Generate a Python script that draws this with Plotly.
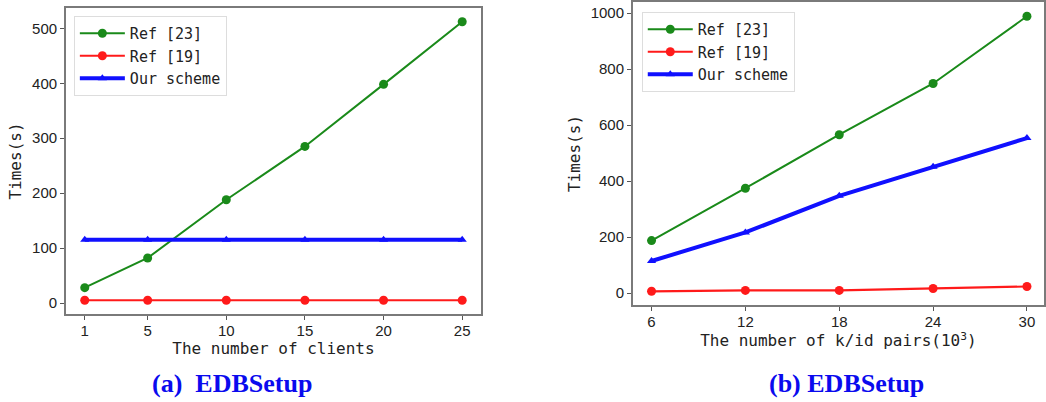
import plotly.graph_objects as go

# Panel (a)
clients = [1, 5, 10, 15, 20, 25]
a_ref23 = [28, 82, 188, 285, 398, 512]
a_ref19 = [5, 5, 5, 5, 5, 5]
a_ours = [115, 115, 115, 115, 115, 115]

# Panel (b)
pairs = [6, 12, 18, 24, 30]
b_ref23 = [188, 375, 566, 749, 989]
b_ref19 = [7, 10, 10, 17, 24]
b_ours = [115, 217, 348, 452, 554]

series_names = ["Ref [23]", "Ref [19]", "Our scheme"]
colors = ["#1a8a1a", "#ff1a1a", "#1010ff"]
widths = [2, 2.2, 4]
symbols = ["circle", "circle", "triangle-up"]
msizes = [9, 9, 8]

LABEL_FONT = dict(family="DejaVu Sans Mono", size=16, color="#222")
TICK_FONT = dict(family="Liberation Sans, Arial", size=15, color="#222")

fig = go.Figure()

for i, ys in enumerate([a_ref23, a_ref19, a_ours]):
    fig.add_trace(go.Scatter(
        x=clients, y=ys, name=series_names[i], mode="lines+markers",
        line=dict(color=colors[i], width=widths[i]),
        marker=dict(symbol=symbols[i], size=msizes[i], color=colors[i]),
        xaxis="x", yaxis="y", legend="legend"))

for i, ys in enumerate([b_ref23, b_ref19, b_ours]):
    fig.add_trace(go.Scatter(
        x=pairs, y=ys, name=series_names[i], mode="lines+markers",
        line=dict(color=colors[i], width=widths[i]),
        marker=dict(symbol=symbols[i], size=msizes[i], color=colors[i]),
        xaxis="x2", yaxis="y2", legend="legend2"))

axis_common = dict(showline=True, mirror=True, linecolor="#7a7a7a", linewidth=1.5,
                   ticks="outside", ticklen=4, tickcolor="#555", showgrid=False,
                   zeroline=False, tickfont=TICK_FONT)

legend_common = dict(bgcolor="rgba(255,255,255,0.9)", bordercolor="#dddddd", borderwidth=1,
                     font=dict(family="DejaVu Sans Mono", size=15, color="#222"),
                     xanchor="left", yanchor="top", itemwidth=45, tracegroupgap=0)

fig.update_layout(
    width=1046, height=402, autosize=False,
    margin=dict(l=0, r=0, t=0, b=0),
    plot_bgcolor="white", paper_bgcolor="white",
    showlegend=True,
    xaxis=dict(domain=[0.0631, 0.4608], range=[-0.2, 26.2], tickvals=clients,
               title=dict(text="The number of clients", font=LABEL_FONT, standoff=2),
               anchor="y", ticklabelstandoff=-2, **axis_common),
    yaxis=dict(domain=[0.2189, 0.9801], range=[-20, 537], tickvals=[0, 100, 200, 300, 400, 500],
               title=dict(text="Times(s)", font=LABEL_FONT, standoff=6),
               anchor="x", **axis_common),
    xaxis2=dict(domain=[0.6061, 1.0], range=[4.8, 31.09], tickvals=pairs,
                title=dict(text="The number of k/id pairs(10<sup>3</sup>)", font=LABEL_FONT, standoff=2),
                anchor="y2", ticklabelstandoff=-2, **axis_common),
    yaxis2=dict(domain=[0.2413, 0.995], range=[-42, 1040], tickvals=[0, 200, 400, 600, 800, 1000],
                title=dict(text="Times(s)", font=LABEL_FONT, standoff=6),
                anchor="x2", **axis_common),
    legend=dict(x=74 / 1046, y=1 - 16 / 402, **legend_common),
    legend2=dict(x=643 / 1046, y=1 - 12 / 402, **legend_common),
    annotations=[
        dict(text="(a)  EDBSetup", x=232 / 1046, y=1 - 383 / 402, xref="paper", yref="paper",
             showarrow=False, xanchor="center", yanchor="middle",
             font=dict(family="Liberation Serif", size=26, color="#0a0aee", weight="bold")),
        dict(text="(b) EDBSetup", x=848 / 1046, y=1 - 383 / 402, xref="paper", yref="paper",
             showarrow=False, xanchor="center", yanchor="middle",
             font=dict(family="Liberation Serif", size=26, color="#0a0aee", weight="bold")),
    ],
)

fig.write_html("out.html", config={"displayModeBar": False},
               post_script="document.body.style.margin='0';")
